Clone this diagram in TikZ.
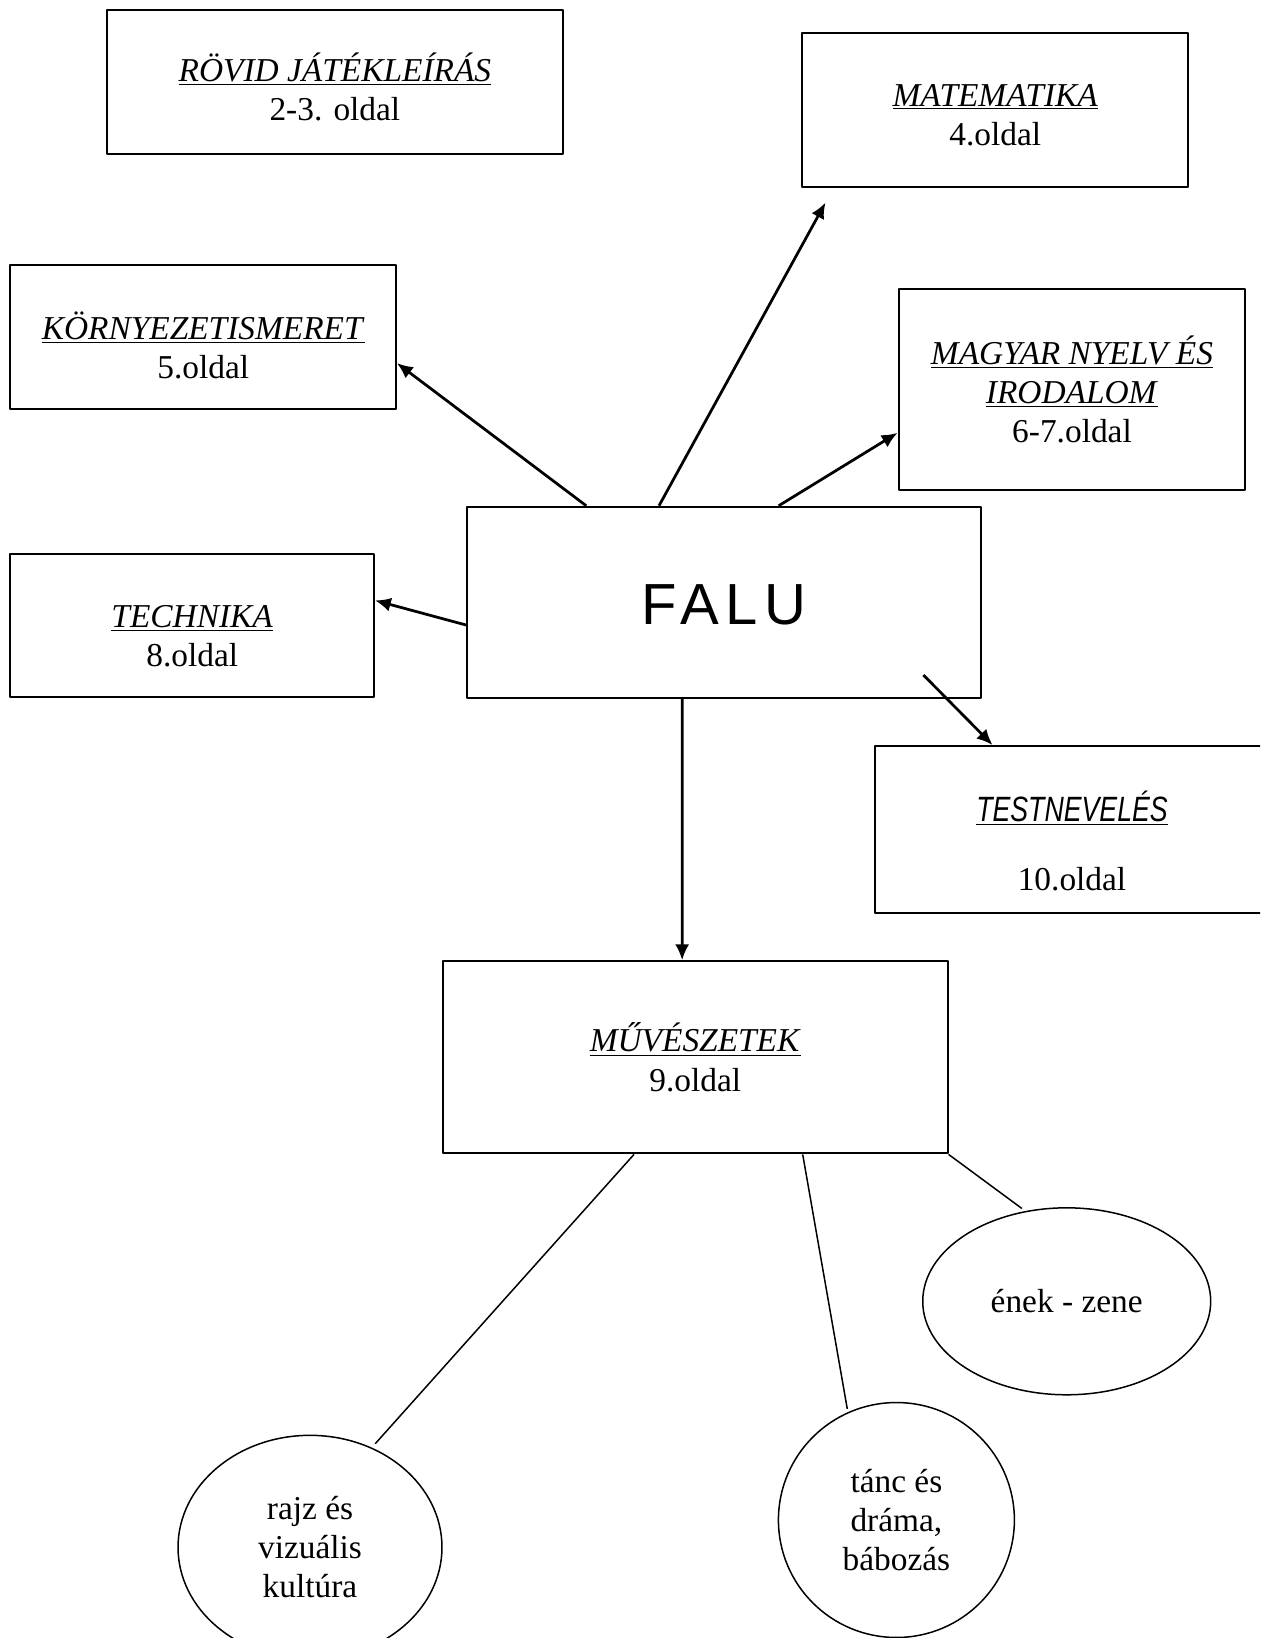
\documentclass[tikz,border=0pt]{standalone}
\usepackage{fontspec}
\setmainfont{Liberation Serif}
\newfontfamily\falufont{Liberation Sans}[LetterSpace=11]
\newfontfamily\tnfont{Liberation Sans}[FakeStretch=0.76]
\usetikzlibrary{calc,shapes.geometric,arrows.meta}
\tikzset{
  subjbox/.style={draw,line width=0.04cm,inner sep=0pt},
  subjtext/.style={align=center,inner sep=0pt,font=\fontsize{19}{22.3}\selectfont},
  oval/.style={draw,ellipse,line width=0.03cm,align=center,inner sep=0pt,font=\fontsize{19}{22.3}\selectfont},
  link/.style={line width=0.055cm},
}
\newcommand{\subj}[1]{\underline{\textit{#1}}}

\begin{document}
\begin{tikzpicture}[x=0.02cm,y=-0.02cm,line join=round,>={Latex[length=9pt,width=8pt]}]
  \useasboundingbox (0,0) rectangle (1260,1638);
  \clip (0,0) rectangle (1260,1638);
  % subject boxes
  \node[subjbox,minimum width=9.13cm,minimum height=2.864cm,
    label={[subjtext,yshift=-0.1cm]center:\subj{RÖVID JÁTÉKLEÍRÁS}\\2-3. oldal}] (rovid) at (334.9,82) {};
  \node[subjbox,minimum width=7.712cm,minimum height=3.072cm,
    label={[subjtext,yshift=-0.1cm]center:\subj{MATEMATIKA}\\4.oldal}] (matek) at (995.2,110.2) {};
  \node[subjbox,minimum width=7.712cm,minimum height=2.862cm,
    label={[subjtext,yshift=-0.17cm]center:\subj{KÖRNYEZETISMERET}\\5.oldal}] (korny) at (203.2,337) {};
  \node[subjbox,minimum width=6.94cm,minimum height=4.012cm,
    label={[subjtext]center:\subj{MAGYAR NYELV ÉS}\\\subj{IRODALOM}\\6-7.oldal}] (magyar) at (1072,389.7) {};
  \node[subjbox,minimum width=7.272cm,minimum height=2.866cm,
    label={[subjtext,yshift=-0.21cm]center:\subj{TECHNIKA}\\8.oldal}] (tech) at (192.2,625.4) {};
  \node[subjbox,minimum width=10.28cm,minimum height=3.826cm,
    label={[subjtext,yshift=-0.05cm]center:{\falufont\fontsize{33}{38}\selectfont FALU}}] (falu) at (724,602.4) {};
  \node[subjbox,minimum width=7.9cm,minimum height=3.34cm,
    label={[subjtext,yshift=-0.23cm]center:{\tnfont\fontsize{20}{22}\selectfont\subj{TESTNEVELÉS}}\\[17pt]10.oldal}] (testnev) at (1072,829.5) {};
  \node[subjbox,minimum width=10.092cm,minimum height=3.844cm,
    label={[subjtext]center:\subj{MŰVÉSZETEK}\\9.oldal}] (muv) at (695.3,1057.3) {};
  % art branches
  \node[oval,minimum width=5.28cm,minimum height=4.48cm] (rajz) at (310,1547.3) {rajz és\\vizuális\\kultúra};
  \node[oval,minimum width=4.72cm,minimum height=4.7cm] (tanc) at (896.4,1520) {tánc és\\dráma,\\bábozás};
  \node[oval,minimum width=5.76cm,minimum height=3.74cm] (enek) at (1066.7,1301.3) {ének - zene};

  \draw[link,->] ($(falu.north west)!0.233!(falu.north east)$) -- ($(korny.north east)!0.68!(korny.south east)$);
  \draw[link,->] ($(falu.north west)!0.374!(falu.north east)$) -- ($(matek.south west)!0.062!(matek.south east)+(0,14.6)$);
  \draw[link,->] ($(falu.north west)!0.606!(falu.north east)$) -- ($(magyar.north west)!0.713!(magyar.south west)$);
  \draw[link,->] ($(falu.north west)!0.617!(falu.south west)$) -- ($(tech.north east)!0.328!(tech.south east)$);
  \draw[link,->] ($(falu.south east)+(-58.5,-24)$) -- ($(testnev.north west)+(119,0)$);
  \draw[link,->] ($(falu.south west)!0.419!(falu.south east)$) -- ($(muv.north west)!0.474!(muv.north east)$);

  \draw[line width=0.03cm] ($(muv.south west)!0.379!(muv.south east)$) -- ($(rajz.58)+(3,-4)$);
  \draw[line width=0.03cm] ($(muv.south west)!0.712!(muv.south east)$) -- ($(tanc.114)+(-1,-3)$);
  \draw[line width=0.03cm] (muv.south east) -- ($(enek.116)+(-1,-3)$);
\end{tikzpicture}
\end{document}
